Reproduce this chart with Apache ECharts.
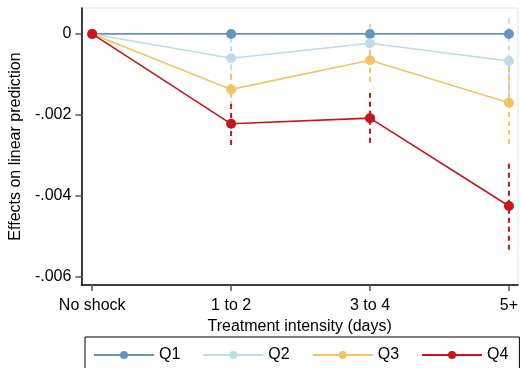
<!DOCTYPE html>
<html>
<head>
<meta charset="utf-8">
<script src="https://cdn.jsdelivr.net/npm/echarts@6/dist/echarts.min.js"></script>
<style>
  html, body { margin: 0; padding: 0; background: #fff; }
  #chart { width: 521px; height: 368px; }
</style>
</head>
<body>
<div id="chart"></div>
<script>
const categories = ['No shock', '1 to 2', '3 to 4', '5+'];
const seriesNames = ['Q1', 'Q2', 'Q3', 'Q4'];
const colors = ['#6396bd', '#bddbe8', '#f2c463', '#c8141c'];

// point estimates
const q1 = [0, 0, 0, 0];
const q2 = [0, -0.0006, -0.00023, -0.00067];
const q3 = [0, -0.00137, -0.00065, -0.0017];
const q4 = [0, -0.00222, -0.00208, -0.00425];

// confidence intervals [low, high] per category (null = none)
const q1Ci = [null, null, null, null];
const q2Ci = [null, [-0.0011, -0.0001], [-0.00076, 0.0003], [-0.00174, 0.0004]];
const q3Ci = [null, [-0.0018, -0.0009], [-0.00118, -0.00012], [-0.00272, -0.00068]];
const q4Ci = [null, [-0.00274, -0.00168], [-0.00269, -0.00146], [-0.00533, -0.00315]];

const yTicks = [0, -0.002, -0.004, -0.006];

const values = [q1, q2, q3, q4];
const cis = [q1Ci, q2Ci, q3Ci, q4Ci];

function fmtY(v) {
  if (v === 0) return '0';
  return v.toFixed(3).replace('0.', '.');
}

const series = [];
cis.forEach((ci, i) => {
  const data = [];
  ci.forEach((c, j) => { if (c) data.push([j, c[0], c[1]]); });
  series.push({
    type: 'custom',
    name: seriesNames[i] + ' CI',
    z: 1,
    silent: true,
    data: data,
    renderItem: (params, api) => {
      const p1 = api.coord([api.value(0), api.value(1)]);
      const p2 = api.coord([api.value(0), api.value(2)]);
      return {
        type: 'line',
        shape: { x1: p1[0], y1: p1[1], x2: p2[0], y2: p2[1] },
        style: { stroke: colors[i], lineWidth: 2, lineDash: [5, 4] }
      };
    }
  });
});
values.forEach((v, i) => {
  series.push({
    type: 'line',
    name: seriesNames[i],
    z: 2 + i,
    data: v.map((y, j) => [j, y]),
    symbol: 'circle',
    symbolSize: 10,
    showSymbol: true,
    itemStyle: { color: colors[i] },
    lineStyle: { color: colors[i], width: 1.6 }
  });
});

const chart = echarts.init(document.getElementById('chart'));
chart.setOption({
  animation: false,
  textStyle: { fontFamily: 'Liberation Sans, Arial, sans-serif' },
  grid: {
    left: 79, right: 1, top: 8, bottom: 83,
    show: true, borderColor: '#dbe7ef', borderWidth: 1
  },
  xAxis: {
    type: 'value',
    min: -0.078,
    max: 3.065,
    name: 'Treatment intensity (days)',
    nameLocation: 'middle',
    nameGap: 28,
    nameTextStyle: { fontSize: 16, color: '#000' },
    axisLine: { show: true, onZero: false, lineStyle: { color: '#000', width: 1.5 } },
    axisTick: { show: true, customValues: [0, 1, 2, 3], length: 6, lineStyle: { color: '#555', width: 1.5 } },
    axisLabel: {
      customValues: [0, 1, 2, 3],
      formatter: v => categories[Math.round(v)],
      fontSize: 16, color: '#000', margin: 13
    },
    splitLine: { show: false }
  },
  yAxis: {
    type: 'value',
    min: -0.0062,
    max: 0.00064,
    name: 'Effects on linear prediction',
    nameLocation: 'middle',
    nameGap: 51,
    nameTextStyle: { fontSize: 16, color: '#000' },
    axisLine: { show: true, onZero: false, lineStyle: { color: '#000', width: 1.5 } },
    axisTick: { show: true, customValues: yTicks, length: 6, lineStyle: { color: '#555', width: 1.5 } },
    axisLabel: {
      customValues: yTicks,
      formatter: fmtY,
      fontSize: 16, color: '#000', margin: 10
    },
    splitLine: { show: false }
  },
  legend: {
    data: seriesNames,
    left: 85,
    top: 337,
    padding: [10, 11, 10, 8],
    itemGap: 22,
    itemWidth: 60,
    itemHeight: 10,
    borderColor: '#000',
    borderWidth: 1,
    borderRadius: 0,
    textStyle: { fontSize: 16, color: '#000' }
  },
  series: series
});
</script>
</body>
</html>
